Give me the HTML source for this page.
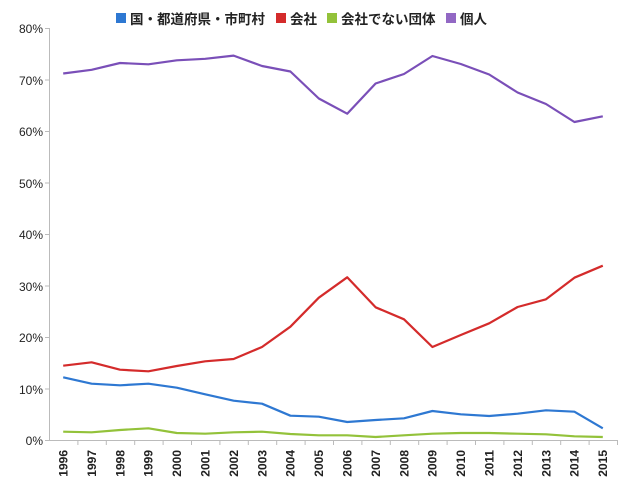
<!DOCTYPE html>
<html><head><meta charset="utf-8"><style>
html,body{margin:0;padding:0;background:#fff;}
svg text{font-family:"Liberation Sans","Noto Sans CJK JP",sans-serif;fill:#222;}
</style></head><body>
<svg width="630" height="484" viewBox="0 0 630 484" xmlns="http://www.w3.org/2000/svg">
<g font-size="13.5" font-weight="bold">
<rect x="116" y="13" width="10" height="10" fill="#2e78d2"/><text x="130" y="24">国・都道府県・市町村</text>
<rect x="276" y="13" width="10" height="10" fill="#d42b2b"/><text x="290" y="24">会社</text>
<rect x="327" y="13" width="10" height="10" fill="#93c23a"/><text x="341" y="24">会社でない団体</text>
<rect x="446" y="13" width="10" height="10" fill="#9268c4"/><text x="460" y="24">個人</text>
</g>
<g stroke="#bbb" stroke-width="1" fill="none">
<path d="M49.5 28V440.5H617"/>
<path d="M45 28.5H49.5M45 80H49.5M45 131.5H49.5M45 183H49.5M45 234.5H49.5M45 286H49.5M45 337.5H49.5M45 389H49.5M45 440.5H49.5"/>
<path d="M77.9 440v5M106.3 440v5M134.7 440v5M163.1 440v5M191.5 440v5M219.9 440v5M248.3 440v5M276.7 440v5M305.1 440v5M333.5 440v5M361.9 440v5M390.3 440v5M418.7 440v5M447.1 440v5M475.5 440v5M503.9 440v5M532.3 440v5M560.7 440v5M589.1 440v5M617.5 440v5"/>
</g>
<g font-size="12" text-anchor="end">
<text x="43" y="33">80%</text><text x="43" y="85">70%</text><text x="43" y="136">60%</text><text x="43" y="188">50%</text><text x="43" y="239">40%</text><text x="43" y="291">30%</text><text x="43" y="342">20%</text><text x="43" y="394">10%</text><text x="43" y="445">0%</text>
</g>
<g font-size="12" text-anchor="end" font-weight="bold">
<text transform="translate(67.5,450) rotate(-90)">1996</text>
<text transform="translate(95.9,450) rotate(-90)">1997</text>
<text transform="translate(124.3,450) rotate(-90)">1998</text>
<text transform="translate(152.7,450) rotate(-90)">1999</text>
<text transform="translate(181.1,450) rotate(-90)">2000</text>
<text transform="translate(209.5,450) rotate(-90)">2001</text>
<text transform="translate(237.9,450) rotate(-90)">2002</text>
<text transform="translate(266.3,450) rotate(-90)">2003</text>
<text transform="translate(294.7,450) rotate(-90)">2004</text>
<text transform="translate(323.1,450) rotate(-90)">2005</text>
<text transform="translate(351.5,450) rotate(-90)">2006</text>
<text transform="translate(379.9,450) rotate(-90)">2007</text>
<text transform="translate(408.3,450) rotate(-90)">2008</text>
<text transform="translate(436.7,450) rotate(-90)">2009</text>
<text transform="translate(465.1,450) rotate(-90)">2010</text>
<text transform="translate(493.5,450) rotate(-90)">2011</text>
<text transform="translate(521.9,450) rotate(-90)">2012</text>
<text transform="translate(550.3,450) rotate(-90)">2013</text>
<text transform="translate(578.7,450) rotate(-90)">2014</text>
<text transform="translate(607.1,450) rotate(-90)">2015</text>
</g>
<g fill="none" stroke-width="2.2" stroke-linejoin="round">
<polyline stroke="#7a4fb8" points="63.2,73.5 91.6,69.8 120,63 148.4,64.3 176.8,60.3 205.2,58.8 233.6,55.6 262,66 290.4,71.5 318.8,98.5 347.2,113.7 375.6,83.5 404,74 432.4,56 460.8,64 489.2,74.5 517.6,92.5 546,104 574.4,122 602.8,116.3"/>
<polyline stroke="#d42b2b" points="63.2,365.7 91.6,362.3 120,369.7 148.4,371.3 176.8,366 205.2,361.3 233.6,359 262,347 290.4,326.7 318.8,297.7 347.2,277.3 375.6,307.3 404,319.3 432.4,347 460.8,335 489.2,323.3 517.6,307 546,299.3 574.4,277.7 602.8,265.7"/>
<polyline stroke="#2e78d2" points="63.2,377.3 91.6,383.7 120,385.3 148.4,383.7 176.8,387.7 205.2,394.3 233.6,400.7 262,403.7 290.4,415.7 318.8,416.7 347.2,422 375.6,420 404,418.3 432.4,411 460.8,414.3 489.2,416 517.6,413.7 546,410.3 574.4,411.7 602.8,428.3"/>
<polyline stroke="#93c23a" points="63.2,431.7 91.6,432.3 120,430 148.4,428.3 176.8,433 205.2,433.7 233.6,432.3 262,431.7 290.4,434 318.8,435.3 347.2,435.3 375.6,437 404,435.3 432.4,433.7 460.8,433 489.2,433 517.6,433.7 546,434.3 574.4,436.3 602.8,437"/>
</g>
</svg>
</body></html>
